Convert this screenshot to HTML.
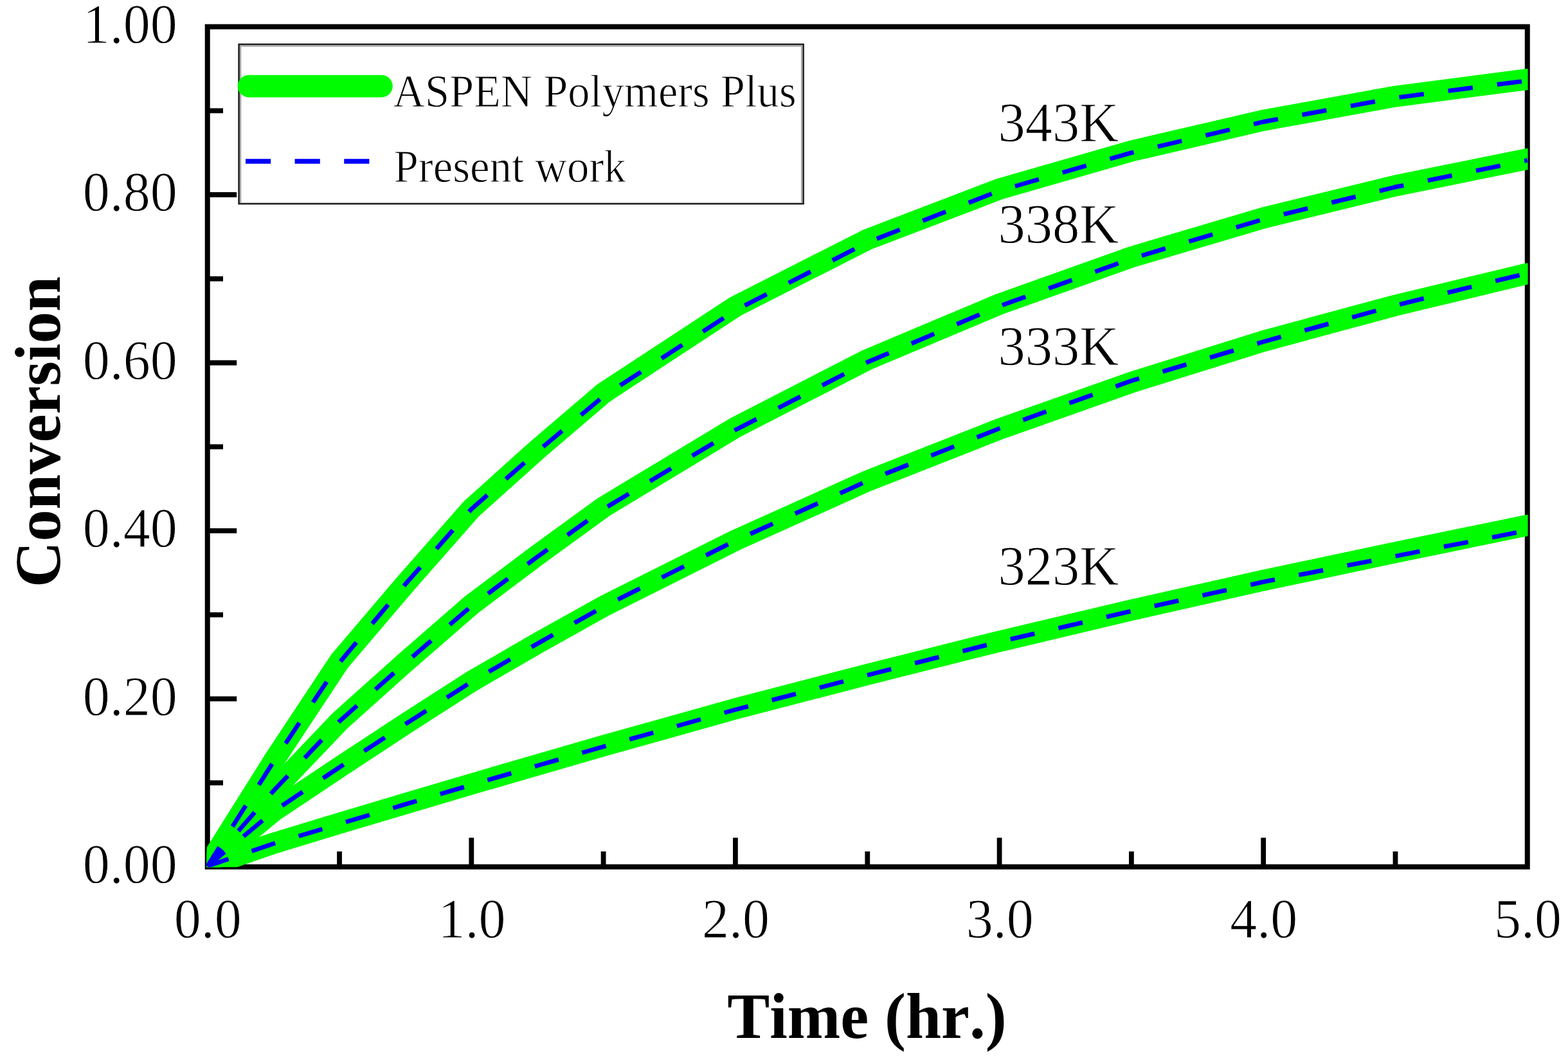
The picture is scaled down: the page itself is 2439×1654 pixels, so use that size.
<!DOCTYPE html>
<html lang="en"><head><meta charset="utf-8"><title>Conversion vs Time</title>
<style>html,body{margin:0;padding:0;background:#fff}svg{display:block;filter:blur(0.7px)}text{font-family:"Liberation Serif","Times New Roman",Times,serif;fill:#000;font-kerning:none;font-variant-ligatures:none;text-rendering:geometricPrecision;stroke:#fff;stroke-width:1.0;stroke-linejoin:round}text.b{stroke-width:0}</style></head><body>
<svg xmlns="http://www.w3.org/2000/svg" width="2439" height="1654" viewBox="0 0 2439 1654">
<rect width="2439" height="1654" fill="#fff"/>
<defs><clipPath id="plot"><rect x="321.6" y="41.6" width="2055.0" height="1307.6"/></clipPath></defs>
<rect x="322.7" y="41.6" width="2053.1" height="1307.2" fill="none" stroke="#000" stroke-width="8.0"/>
<g stroke="#000" stroke-width="7.8" fill="none">
<line x1="322.7" y1="1218.1" x2="347.0" y2="1218.1"/>
<line x1="322.7" y1="1087.4" x2="368.2" y2="1087.4"/>
<line x1="322.7" y1="956.6" x2="347.0" y2="956.6"/>
<line x1="322.7" y1="825.9" x2="368.2" y2="825.9"/>
<line x1="322.7" y1="695.2" x2="347.0" y2="695.2"/>
<line x1="322.7" y1="564.5" x2="368.2" y2="564.5"/>
<line x1="322.7" y1="433.8" x2="347.0" y2="433.8"/>
<line x1="322.7" y1="303.0" x2="368.2" y2="303.0"/>
<line x1="322.7" y1="172.3" x2="347.0" y2="172.3"/>
<line x1="528.0" y1="1348.8" x2="528.0" y2="1324.8"/>
<line x1="733.3" y1="1348.8" x2="733.3" y2="1303.5"/>
<line x1="938.6" y1="1348.8" x2="938.6" y2="1324.8"/>
<line x1="1143.9" y1="1348.8" x2="1143.9" y2="1303.5"/>
<line x1="1349.3" y1="1348.8" x2="1349.3" y2="1324.8"/>
<line x1="1554.6" y1="1348.8" x2="1554.6" y2="1303.5"/>
<line x1="1759.9" y1="1348.8" x2="1759.9" y2="1324.8"/>
<line x1="1965.2" y1="1348.8" x2="1965.2" y2="1303.5"/>
<line x1="2170.5" y1="1348.8" x2="2170.5" y2="1324.8"/>
</g>
<g clip-path="url(#plot)" fill="none" stroke-linejoin="round">
<polyline points="322.7,1347.7 425.4,1312.2 528.0,1281.0 630.7,1250.4 733.3,1220.0 836.0,1190.1 938.6,1160.4 1143.9,1102.9 1349.3,1049.5 1554.6,997.9 1759.9,949.3 1965.2,903.0 2170.5,859.7 2375.8,817.4" stroke="#00fc00" stroke-width="33" stroke-linecap="round"/>
<polyline points="322.7,1347.7 425.4,1262.2 528.0,1193.8 630.7,1126.2 733.3,1060.4 836.0,1000.9 938.6,943.6 1143.9,840.7 1349.3,748.3 1554.6,667.6 1759.9,595.0 1965.2,530.7 2170.5,475.2 2375.8,425.9" stroke="#00fc00" stroke-width="33" stroke-linecap="round"/>
<polyline points="322.7,1347.7 425.4,1230.2 528.0,1122.3 630.7,1030.3 733.3,941.0 836.0,863.8 938.6,789.1 1143.9,665.1 1349.3,559.6 1554.6,473.3 1759.9,400.0 1965.2,339.1 2170.5,289.0 2375.8,247.4" stroke="#00fc00" stroke-width="33" stroke-linecap="round"/>
<polyline points="322.7,1347.7 425.4,1184.2 528.0,1029.0 630.7,908.3 733.3,791.6 836.0,699.4 938.6,611.6 1143.9,476.9 1349.3,372.6 1554.6,294.2 1759.9,235.0 1965.2,187.2 2170.5,150.1 2375.8,123.4" stroke="#00fc00" stroke-width="33" stroke-linecap="round"/>
<polyline points="322.7,1347.7 425.4,1312.7 528.0,1282.0 630.7,1251.4 733.3,1221.2 836.0,1191.3 938.6,1161.7 1143.9,1104.2 1349.3,1050.5 1554.6,998.7 1759.9,950.8 1965.2,905.4 2170.5,865.3 2375.8,825.4" stroke="#0000fc" stroke-width="6.9" stroke-dasharray="38.6 38.0" stroke-dashoffset="3.9"/>
<polyline points="322.7,1347.7 425.4,1262.7 528.0,1193.8 630.7,1126.7 733.3,1060.9 836.0,1001.4 938.6,944.1 1143.9,841.2 1349.3,748.3 1554.6,666.6 1759.9,592.5 1965.2,531.7 2170.5,475.2 2375.8,425.1" stroke="#0000fc" stroke-width="6.9" stroke-dasharray="38.6 38.06" stroke-dashoffset="3.9"/>
<polyline points="322.7,1347.7 425.4,1230.7 528.0,1122.3 630.7,1031.3 733.3,943.0 836.0,866.3 938.6,792.1 1143.9,669.0 1349.3,563.5 1554.6,476.3 1759.9,402.5 1965.2,341.1 2170.5,291.0 2375.8,249.4" stroke="#0000fc" stroke-width="6.9" stroke-dasharray="38.6 38.11" stroke-dashoffset="3.9"/>
<polyline points="322.7,1347.7 425.4,1185.2 528.0,1031.0 630.7,908.8 733.3,792.1 836.0,702.4 938.6,616.6 1143.9,482.9 1349.3,377.1 1554.6,296.7 1759.9,237.6 1965.2,189.5 2170.5,152.1 2375.8,125.4" stroke="#0000fc" stroke-width="6.9" stroke-dasharray="38.6 38.14" stroke-dashoffset="3.9"/>
</g>
<rect x="371.6" y="69.0" width="878.0" height="248.0" fill="#fff" stroke="#1e1e1e" stroke-width="2.6"/>
<polyline points="374.1,315.7 374.1,71.5 1247.1,71.5 1247.1,315.7" fill="none" stroke="#a8a8a8" stroke-width="2.4"/>
<line x1="387" y1="134.1" x2="593.5" y2="134.1" stroke="#00fc00" stroke-width="34.6" stroke-linecap="round"/>
<line x1="382.0" y1="251" x2="600" y2="251" stroke="#0000fc" stroke-width="7.300000000000001" stroke-dasharray="39.2 37.4"/>
<text transform="translate(611.5 165.8) scale(1.0060 1.0550)" font-size="68" text-anchor="start">ASPEN Polymers Plus</text>
<text transform="translate(612.5 283.1) scale(1.0120 1.0550)" font-size="68" text-anchor="start">Present work</text>
<text transform="translate(275.8 1374.0) scale(1.0120 1.0550)" font-size="83" text-anchor="end">0.00</text>
<text transform="translate(275.8 1112.6) scale(1.0120 1.0550)" font-size="83" text-anchor="end">0.20</text>
<text transform="translate(275.8 851.1) scale(1.0120 1.0550)" font-size="83" text-anchor="end">0.40</text>
<text transform="translate(275.8 589.7) scale(1.0120 1.0550)" font-size="83" text-anchor="end">0.60</text>
<text transform="translate(275.8 328.2) scale(1.0120 1.0550)" font-size="83" text-anchor="end">0.80</text>
<text transform="translate(275.8 66.8) scale(1.0120 1.0550)" font-size="83" text-anchor="end">1.00</text>
<text transform="translate(323.3 1458.6) scale(1.0120 1.0550)" font-size="83" text-anchor="middle">0.0</text>
<text transform="translate(733.9 1458.6) scale(1.0120 1.0550)" font-size="83" text-anchor="middle">1.0</text>
<text transform="translate(1144.5 1458.6) scale(1.0120 1.0550)" font-size="83" text-anchor="middle">2.0</text>
<text transform="translate(1555.2 1458.6) scale(1.0120 1.0550)" font-size="83" text-anchor="middle">3.0</text>
<text transform="translate(1965.8 1458.6) scale(1.0120 1.0550)" font-size="83" text-anchor="middle">4.0</text>
<text transform="translate(2376.4 1458.6) scale(1.0120 1.0550)" font-size="83" text-anchor="middle">5.0</text>
<text transform="translate(1552.6 220.3) scale(1.0180 1.0550)" font-size="83" text-anchor="start">343K</text>
<text transform="translate(1552.6 377.8) scale(1.0180 1.0550)" font-size="83" text-anchor="start">338K</text>
<text transform="translate(1552.6 568.3) scale(1.0180 1.0550)" font-size="83" text-anchor="start">333K</text>
<text transform="translate(1552.6 909.8) scale(1.0180 1.0550)" font-size="83" text-anchor="start">323K</text>
<text transform="translate(1348.5 1614.5) scale(1.0000 1.0200)" font-size="99" text-anchor="middle" font-weight="bold" class="b">Time (hr.)</text>
<text transform="translate(93.2 672.0) rotate(-90) scale(1.0000 1.0200)" font-size="99" text-anchor="middle" font-weight="bold" class="b">Conversion</text>
</svg></body></html>
